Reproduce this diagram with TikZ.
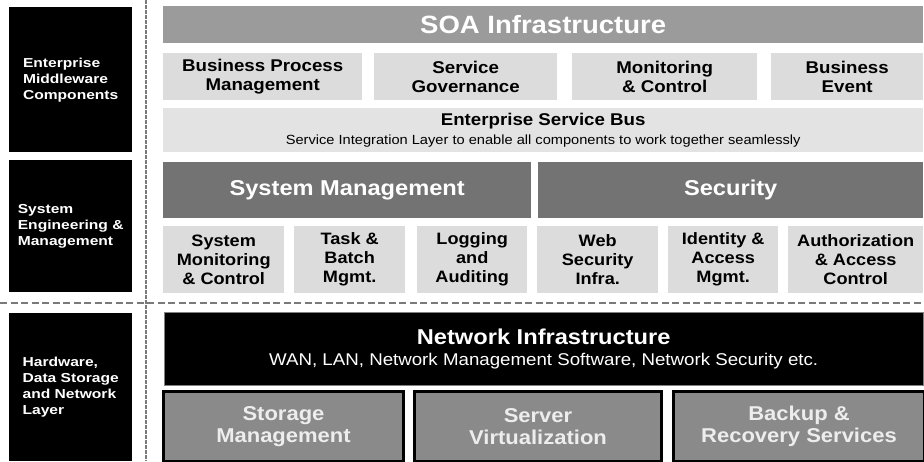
\documentclass[tikz,border=0pt]{standalone}
\usepackage{fontspec}
\setmainfont[FakeStretch=1.1]{Liberation Sans}
\newfontfamily\sidefont[FakeStretch=1.2]{Liberation Sans}

\definecolor{soagray}{HTML}{9B9B9B}
\definecolor{palegray}{HTML}{DCDCDC}
\definecolor{busgray}{HTML}{E3E3E3}
\definecolor{darkgray}{HTML}{737373}
\definecolor{basegray}{HTML}{8A8A8A}
\definecolor{sepgray}{HTML}{7A7A7A}

\tikzset{
  blk/.style={anchor=north west, inner sep=0pt, align=center},
  side/.style={blk, fill=black, text=white, align=left, minimum width=123pt,
    font=\sidefont\bfseries\fontsize{13}{16}\selectfont},
  titlebar/.style={blk, fill=soagray, text=white, font=\bfseries\fontsize{25}{28}\selectfont},
  midbox/.style={blk, fill=palegray, font=\bfseries\fontsize{17}{19}\selectfont},
  busbar/.style={blk, fill=busgray, font=\bfseries\fontsize{17}{19}\selectfont},
  darkbar/.style={blk, fill=darkgray, text=white, font=\bfseries\fontsize{21.5}{24}\selectfont},
  smallbox/.style={blk, fill=palegray, font=\bfseries\fontsize{16.5}{19}\selectfont},
  netbar/.style={blk, fill=black, draw=gray, text=white, font=\bfseries\fontsize{21.5}{21}\selectfont},
  basebox/.style={blk, fill=basegray, draw=black, line width=3pt, text=white!93!black,
    font=\bfseries\fontsize{20}{22}\selectfont},
  sepline/.style={sepgray, line width=1.2pt, dash pattern=on 7pt off 3.5pt}
}

\begin{document}
\begin{tikzpicture}[x=1pt,y=-1pt]
  \useasboundingbox (0,0) rectangle (924,461);

  % layer labels
  \node[side, minimum height=145pt] (emw) at (9,7) {Enterprise\\Middleware\\Components};
  \node[side, minimum height=132pt] (seng) at (9,160) {System\\Engineering \&\\Management};
  \node[side, minimum height=148pt] (hwlayer) at (9,313) {Hardware,\\Data Storage\\and Network\\Layer};

  % separators
  \draw[sepline, dash pattern=on 3.5pt off 1.5pt] (146,0) -- (146,461);
  \draw[sepline] (0,303) -- (924,303);

  % middleware
  \node[titlebar, minimum width=760pt, minimum height=37pt] (soa) at (163,6) {SOA Infrastructure};
  \node[midbox, minimum width=199pt, minimum height=47pt] (bpm) at (163,53) {Business Process\\Management};
  \node[midbox, minimum width=183pt, minimum height=47pt] (gov) at (374,53) {Service\\Governance};
  \node[midbox, minimum width=185pt, minimum height=47pt] (mon) at (572,53) {Monitoring\\\& Control};
  \node[midbox, minimum width=152pt, minimum height=47pt] (bev) at (771,53) {Business\\Event};
  \node[busbar, minimum width=760pt, minimum height=44pt] (esb) at (163,108)
    {Enterprise Service Bus\\{\mdseries\fontsize{13.3}{15}\selectfont Service Integration Layer to enable all components to work together seamlessly}};

  % system engineering
  \node[darkbar, minimum width=368pt, minimum height=56pt] (sysmgmt) at (163,162) {System Management};
  \node[darkbar, minimum width=385pt, minimum height=56pt] (security) at (538,162) {Security};
  \node[smallbox, minimum width=121pt, minimum height=67pt] (sysmon) at (163,226) {System\\Monitoring\\\& Control};
  \node[smallbox, minimum width=111pt, minimum height=67pt] (batch) at (294,226) {Task \&\\Batch\\Mgmt.};
  \node[smallbox, minimum width=110pt, minimum height=67pt] (logging) at (417,226) {Logging\\and\\Auditing};
  \node[smallbox, minimum width=121pt, minimum height=67pt] (websec) at (537,226) {Web\\Security\\Infra.};
  \node[smallbox, minimum width=110pt, minimum height=67pt] (idm) at (668,226) {Identity \&\\Access\\Mgmt.};
  \node[smallbox, minimum width=135pt, minimum height=67pt] (authz) at (788,226) {Authorization\\\& Access\\Control};

  % hardware, storage, network
  \node[netbar, minimum width=759pt, minimum height=73pt] (network) at (164,312)
    {Network Infrastructure\\{\mdseries\fontsize{17}{20}\selectfont WAN, LAN, Network Management Software, Network Security etc.}};
  \node[basebox, minimum width=240pt, minimum height=70pt] (storage) at (162,390) {Storage\\Management};
  \node[basebox, minimum width=247pt, minimum height=70pt] (servervirt) at (413,390) {Server\\Virtualization};
  \node[basebox, minimum width=251pt, minimum height=70pt] (backup) at (672,390) {Backup \&\\Recovery Services};
\end{tikzpicture}
\end{document}
